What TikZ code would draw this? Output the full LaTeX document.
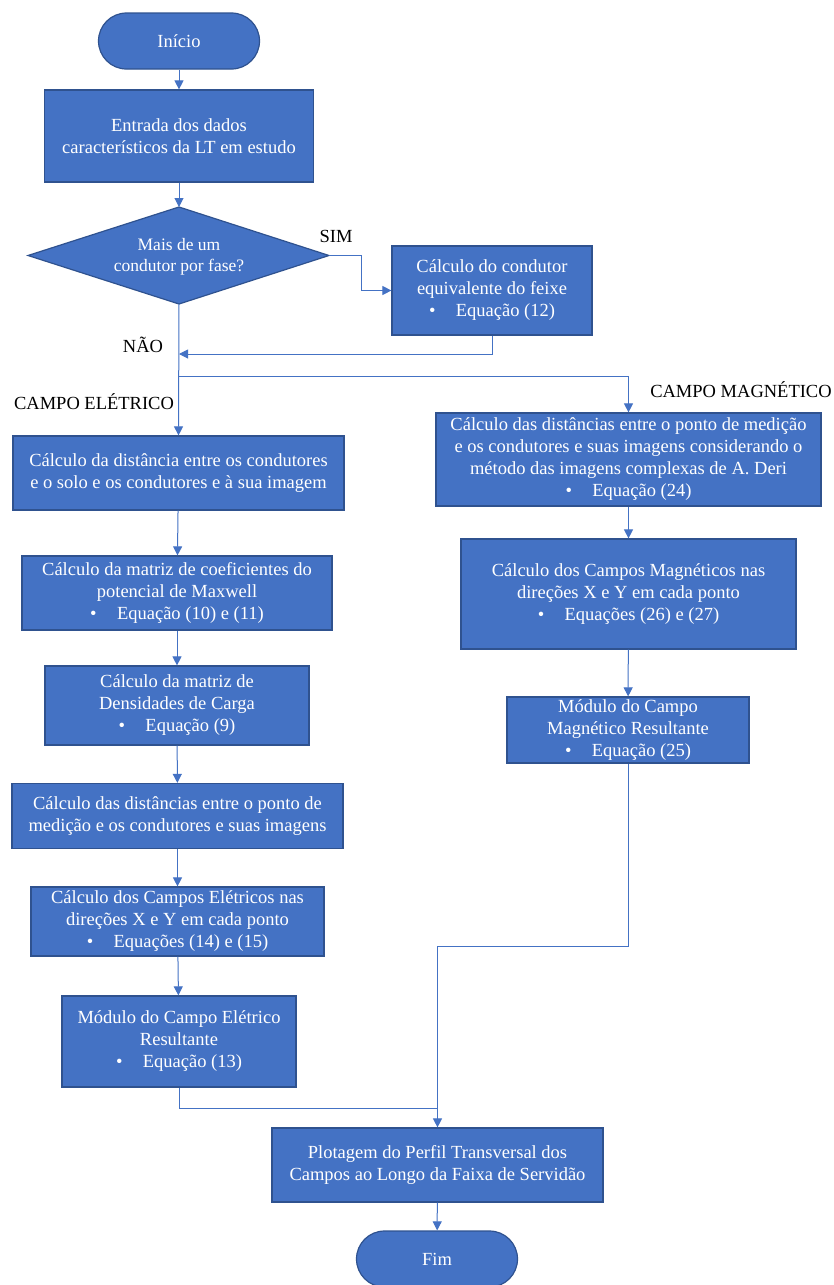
\documentclass[tikz,border=0pt]{standalone}
\usepackage{fontspec}
\setmainfont{Liberation Serif}
\usetikzlibrary{arrows.meta}
\definecolor{boxfill}{HTML}{4472C4}
\definecolor{boxborder}{HTML}{2F528F}
\definecolor{linec}{HTML}{4472C4}
\newcommand{\bul}{\textbullet\hspace{1.1em}}
\begin{document}
\begin{tikzpicture}[x=1pt,y=-1pt,
  box/.style={draw=boxborder, fill=boxfill, text=white, line width=1.2pt, inner sep=0pt, align=center, font=\fontsize{18.5}{22}\selectfont},
  term/.style={box, rounded corners=28pt},
  conn/.style={draw=linec, line width=1pt, -{Triangle[length=9pt,width=9pt]}},
  plain/.style={draw=linec, line width=1pt},
  lbl/.style={text=black, inner sep=0pt, font=\fontsize{18.5}{22}\selectfont}]
\fill[white] (0,0) rectangle (834,1285);
\useasboundingbox (0,0) rectangle (834,1285);

% top
\node[term, minimum width=161pt, minimum height=56pt] (inicio) at (179,41) {Início};
\node[box, minimum width=269pt, minimum height=92pt] (entrada) at (179,136) {Entrada dos dados\\característicos da LT em estudo};

% decision diamond
\coordinate (dtop) at (179,207);
\coordinate (dbot) at (179,304);
\coordinate (dleft) at (28,255.5);
\coordinate (dright) at (329,255.5);
\draw[fill=boxfill, draw=boxborder, line width=1.2pt] (dtop) -- (dright) -- (dbot) -- (dleft) -- cycle;
\node[text=white, align=center, inner sep=0pt, font=\fontsize{17.5}{21}\selectfont] (dec) at (179,257) {Mais de um\\condutor por fase?};

\node[box, minimum width=200pt, minimum height=89pt] (feixe) at (492,290.5) {Cálculo do condutor\\equivalente do feixe\\\bul Equação (12)};

% labels
\node[lbl] (sim) at (336,236) {SIM};
\node[lbl] (nao) at (143,345) {NÃO};
\node[lbl] (celet) at (94,402) {CAMPO ELÉTRICO};
\node[lbl] (cmag) at (741,390) {CAMPO MAGNÉTICO};

% electric column
\node[box, minimum width=331pt, minimum height=74pt] (e1) at (178.5,473) {Cálculo da distância entre os condutores\\e o solo e os condutores e à sua imagem};
\node[box, minimum width=310pt, minimum height=74pt] (e2) at (177,593) {Cálculo da matriz de coeficientes do\\potencial de Maxwell\\\bul Equação (10) e (11)};
\node[box, minimum width=264pt, minimum height=79pt] (e3) at (177,705.5) {Cálculo da matriz de\\Densidades de Carga\\\bul Equação (9)};
\node[box, minimum width=331pt, minimum height=65pt] (e4) at (177.5,816) {Cálculo das distâncias entre o ponto de\\medição e os condutores e suas imagens};
\node[box, minimum width=293pt, minimum height=69pt] (e5) at (177.5,921.5) {Cálculo dos Campos Elétricos nas\\direções X e Y em cada ponto\\\bul Equações (14) e (15)};
\node[box, minimum width=234pt, minimum height=91pt] (e6) at (179,1041.5) {Módulo do Campo Elétrico\\Resultante\\\bul Equação (13)};

% magnetic column
\node[box, minimum width=385pt, minimum height=93pt] (m1) at (628.5,459.5) {Cálculo das distâncias entre o ponto de medição\\e os condutores e suas imagens considerando o\\método das imagens complexas de A. Deri\\\bul Equação (24)};
\node[box, minimum width=335pt, minimum height=110pt] (m2) at (628.5,594) {Cálculo dos Campos Magnéticos nas\\direções X e Y em cada ponto\\\bul Equações (26) e (27)};
\node[box, minimum width=242pt, minimum height=66pt] (m3) at (628,730) {Módulo do Campo\\Magnético Resultante\\\bul Equação (25)};

% bottom
\node[box, minimum width=331pt, minimum height=74pt] (plot) at (437.5,1165) {Plotagem do Perfil Transversal dos\\Campos ao Longo da Faixa de Servidão};
\node[term, minimum width=161pt, minimum height=56pt] (fim) at (437,1259) {Fim};

% coordinates
\coordinate (split) at (179,376);
\coordinate (join) at (437,1108);

% connectors
\draw[conn] (inicio) -- (entrada);
\draw[conn] (entrada) -- (dtop);
\draw[conn] (dright) -- (361,255.5) |- (feixe.west);
\draw[conn] (feixe.south) |- (179,354);
\draw[conn] (dbot) -- (e1.north);
\draw[conn] (split) -| (m1.north);
\draw[conn] (e1) -- (e2);
\draw[conn] (e2) -- (e3);
\draw[conn] (e3) -- (e4);
\draw[conn] (e4) -- (e5);
\draw[conn] (e5) -- (e6);
\draw[conn] (m1) -- (m2);
\draw[conn] (m2) -- (m3);
\draw[conn] (m3.south) -- (628,946) -| (plot.north);
\draw[plain] (e6.south) |- (join);
\draw[conn] (plot) -- (fim);
\end{tikzpicture}
\end{document}
